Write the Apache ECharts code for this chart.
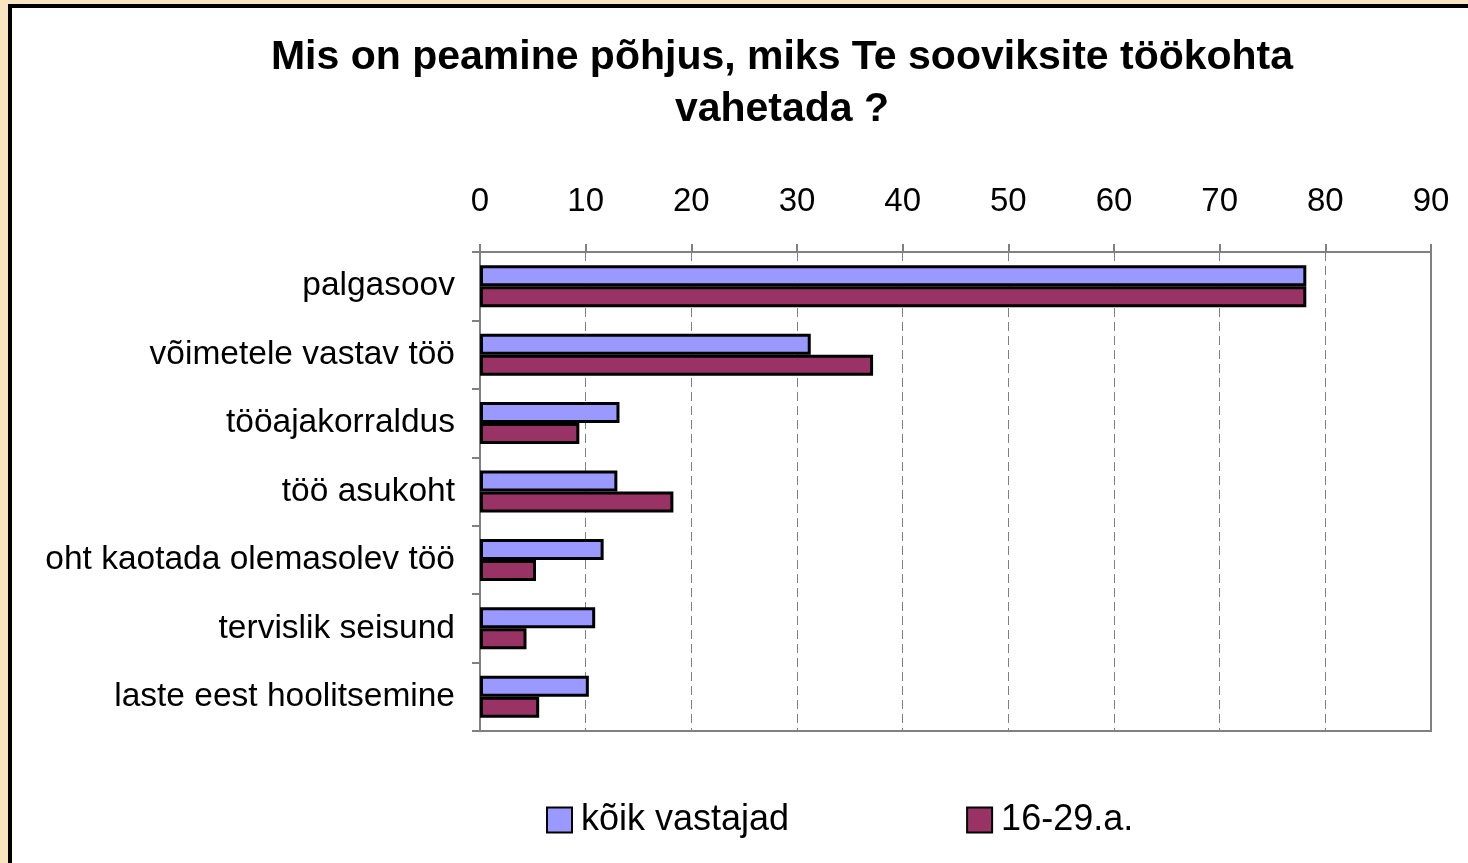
<!DOCTYPE html>
<html>
<head>
<meta charset="utf-8">
<script src="https://cdn.jsdelivr.net/npm/echarts@6/dist/echarts.min.js"></script>
<style>
  html, body { margin: 0; padding: 0; background: #F9E6C0; overflow: hidden; }
  #frame {
    position: absolute; left: 8px; top: 4px; width: 1500px; height: 900px;
    border-left: 4px solid #000; border-top: 4px solid #000; background: #fff;
  }
  #main { position: absolute; left: 0; top: 0; width: 1468px; height: 863px; }
</style>
</head>
<body>
<div id="frame"></div>
<div id="main"></div>
<script>
const categories = [
  'palgasoov',
  'võimetele vastav töö',
  'tööajakorraldus',
  'töö asukoht',
  'oht kaotada olemasolev töö',
  'tervislik seisund',
  'laste eest hoolitsemine'
]
const allValues = [78.2, 31.3, 13.2, 13.0, 11.7, 10.9, 10.3]
const youngValues = [78.2, 37.2, 9.4, 18.3, 5.3, 4.4, 5.6]
const xTicks = [0, 90, 10]

const chart = echarts.init(document.getElementById('main'))
const font = 'Liberation Sans, Arial, sans-serif'
chart.setOption({
  textStyle: { fontFamily: font },
  title: {
    text: 'Mis on peamine põhjus, miks Te sooviksite töökohta\nvahetada ?',
    left: 777,
    textAlign: 'center',
    top: 27,
    textStyle: { fontSize: 41, fontWeight: 'bold', color: '#000', lineHeight: 52, fontFamily: font }
  },
  legend: {
    left: 541,
    top: 797,
    itemWidth: 25,
    itemHeight: 25,
    itemGap: 177,
    icon: 'rect',
    textStyle: { fontSize: 36, color: '#000', padding: [0, 0, 0, 4], fontFamily: font },
    data: ['kõik vastajad', '16-29.a.']
  },
  grid: {
    left: 480,
    right: 37,
    top: 252,
    bottom: 132,
    show: true,
    borderColor: '#808080',
    borderWidth: 2
  },
  xAxis: {
    type: 'value',
    position: 'top',
    min: xTicks[0],
    max: xTicks[1],
    interval: xTicks[2],
    axisLine: { show: true, lineStyle: { color: '#808080', width: 2 } },
    axisTick: { show: true, length: 8, lineStyle: { color: '#808080', width: 2 } },
    axisLabel: { fontSize: 33, color: '#000', margin: 34, fontFamily: font },
    splitLine: { show: true, lineStyle: { color: '#808080', width: 1, type: [9, 5] } }
  },
  yAxis: {
    type: 'category',
    inverse: true,
    data: categories,
    axisLine: { show: true, lineStyle: { color: '#808080', width: 2 } },
    axisTick: { show: true, length: 8, lineStyle: { color: '#808080', width: 2 } },
    axisLabel: { fontSize: 33.5, color: '#000', margin: 25, padding: [6, 0, 0, 0], fontFamily: font }
  },
  series: [
    {
      name: 'kõik vastajad',
      type: 'bar',
      data: allValues,
      barWidth: 21,
      barGap: '0%',
      itemStyle: { color: '#9999FF', borderColor: '#000', borderWidth: 3 }
    },
    {
      name: '16-29.a.',
      type: 'bar',
      data: youngValues,
      barWidth: 21,
      barGap: '0%',
      itemStyle: { color: '#993366', borderColor: '#000', borderWidth: 3 }
    }
  ]
})
</script>
</body>
</html>
